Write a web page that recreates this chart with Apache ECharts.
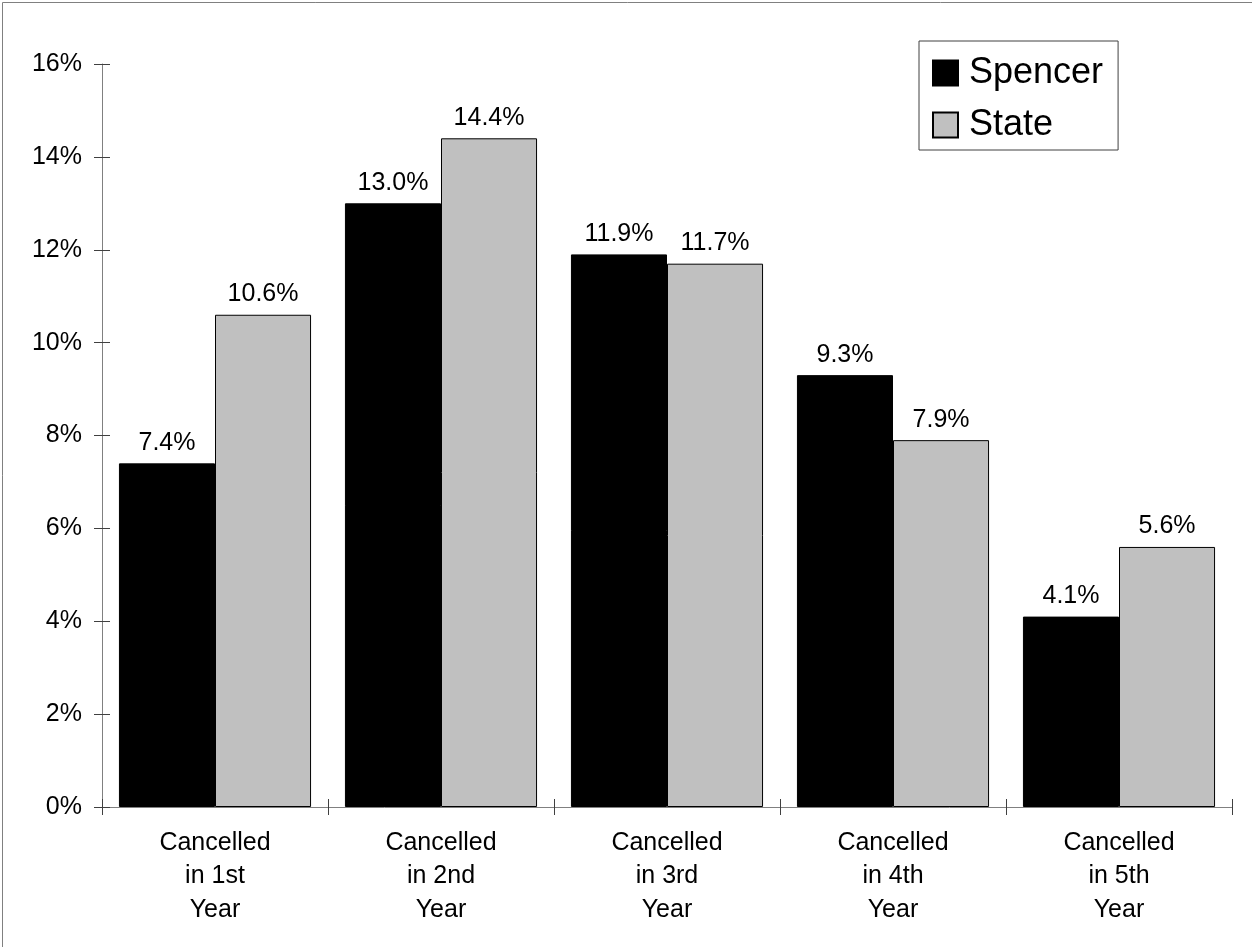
<!DOCTYPE html>
<html>
<head>
<meta charset="utf-8">
<script src="https://cdn.jsdelivr.net/npm/echarts@6/dist/echarts.min.js"></script>
<style>
  html, body { margin: 0; padding: 0; background: #fff; }
  #chart { width: 1252px; height: 947px; }
</style>
</head>
<body>
<div id="chart"></div>
<script>
// Policy cancellations by year of coverage, Spencer vs. State
const categories = [
  'Cancelled\nin 1st\nYear',
  'Cancelled\nin 2nd\nYear',
  'Cancelled\nin 3rd\nYear',
  'Cancelled\nin 4th\nYear',
  'Cancelled\nin 5th\nYear'
];
const spencer = [7.4, 13.0, 11.9, 9.3, 4.1];
const state = [10.6, 14.4, 11.7, 7.9, 5.6];
const yMin = 0;
const yMax = 16;
const yStep = 2;

const FONT = '"Liberation Sans", Arial, sans-serif';
const AXIS_GRAY = '#808080';
const TICK_COLOR = '#404040';

const chart = echarts.init(document.getElementById('chart'), null, { renderer: 'canvas' });

const barLabel = {
  show: true,
  position: 'top',
  distance: 8,
  fontFamily: FONT,
  fontSize: 25,
  color: '#000',
  formatter: p => p.value.toFixed(1) + '%'
};

chart.setOption({
  backgroundColor: '#fff',
  animation: false,
  textStyle: { fontFamily: FONT },
  grid: { left: 102, right: 20, top: 64, bottom: 140, containLabel: false },
  legend: {
    orient: 'vertical',
    left: 919,
    top: 41,
    padding: [12, 15, 5, 13],
    itemWidth: 25,
    itemHeight: 25,
    itemGap: 12,
    borderColor: '#404040',
    borderWidth: 1,
    icon: 'rect',
    textStyle: { fontFamily: FONT, fontSize: 36, color: '#000', lineHeight: 40, padding: [0, 0, 0, 6] },
    data: ['Spencer', 'State']
  },
  xAxis: [
    {
      type: 'category',
      data: categories,
      position: 'bottom',
      axisLine: { lineStyle: { color: AXIS_GRAY, width: 1 } },
      axisTick: { show: true, inside: false, length: 8, alignWithLabel: false, lineStyle: { color: TICK_COLOR } },
      axisLabel: { fontFamily: FONT, fontSize: 25, color: '#000', lineHeight: 33.5, margin: 19, interval: 0 }
    },
    {
      type: 'category',
      data: categories,
      position: 'bottom',
      axisLine: { show: false },
      axisTick: { show: true, inside: true, length: 8, alignWithLabel: false, lineStyle: { color: TICK_COLOR } },
      axisLabel: { show: false },
      splitLine: { show: false }
    }
  ],
  yAxis: [
    {
      type: 'value',
      min: yMin,
      max: yMax,
      interval: yStep,
      position: 'left',
      axisLine: { show: true, lineStyle: { color: AXIS_GRAY, width: 1 } },
      axisTick: { show: true, inside: false, length: 8, lineStyle: { color: TICK_COLOR } },
      axisLabel: { fontFamily: FONT, fontSize: 25, color: '#000', margin: 20, formatter: '{value}%' },
      splitLine: { show: false }
    },
    {
      type: 'value',
      min: yMin,
      max: yMax,
      interval: yStep,
      position: 'left',
      axisLine: { show: false },
      axisTick: { show: true, inside: true, length: 8, lineStyle: { color: TICK_COLOR } },
      axisLabel: { show: false },
      splitLine: { show: false }
    }
  ],
  series: [
    {
      name: 'Spencer',
      type: 'bar',
      xAxisIndex: 0,
      yAxisIndex: 0,
      data: spencer,
      barGap: '0%',
      barCategoryGap: '15%',
      itemStyle: { color: '#000000', borderColor: '#000000', borderWidth: 1 },
      label: barLabel
    },
    {
      name: 'State',
      type: 'bar',
      xAxisIndex: 0,
      yAxisIndex: 0,
      data: state,
      barGap: '0%',
      barCategoryGap: '15%',
      itemStyle: { color: '#C0C0C0', borderColor: '#000000', borderWidth: 1 },
      label: barLabel
    }
  ],
  graphic: [
    {
      type: 'rect',
      left: 0,
      top: 0,
      shape: { x: 0.5, y: 0.5, width: 1251, height: 946 },
      style: { fill: 'none', stroke: AXIS_GRAY, lineWidth: 1 },
      silent: true,
      z: 100
    }
  ]
});
</script>
</body>
</html>
